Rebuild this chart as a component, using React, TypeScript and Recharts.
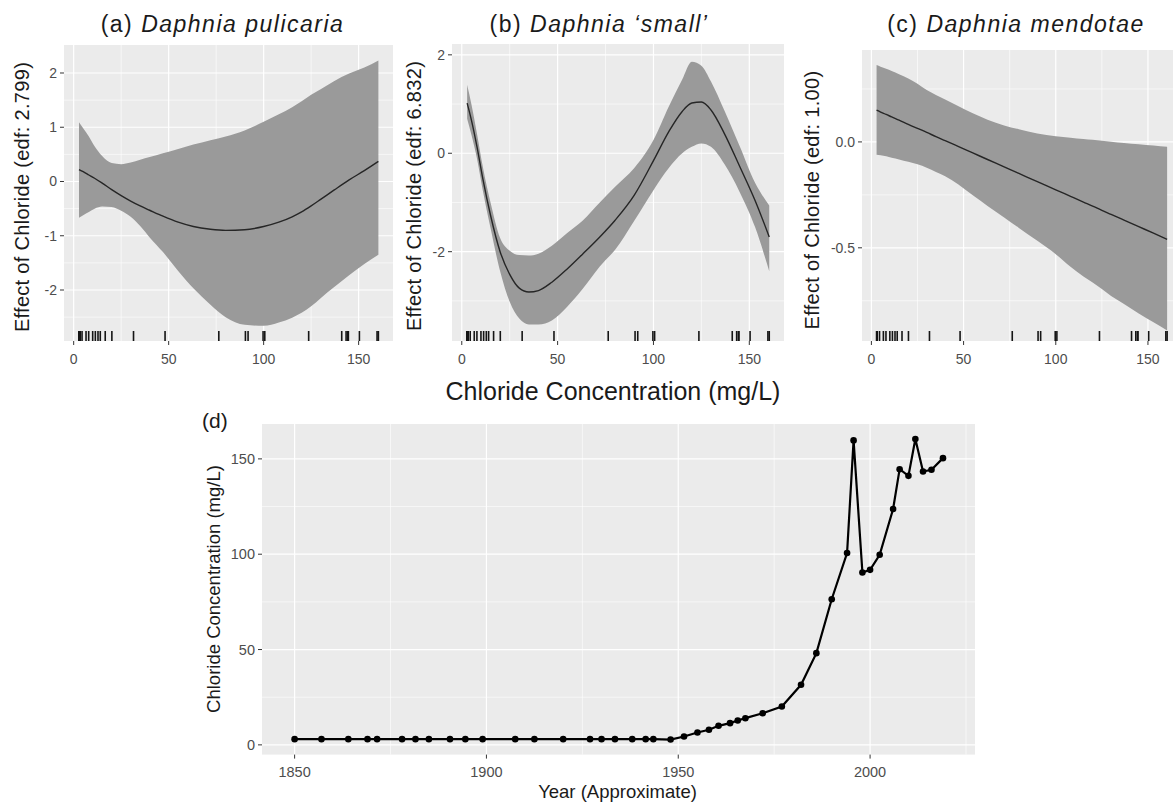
import React from "react";
import { Area, CartesianGrid, ComposedChart, Line, Scatter, XAxis, YAxis } from "recharts";

const FONT = '"Liberation Sans", Arial, Helvetica, sans-serif';
const PANEL_BG = "#EBEBEB";
const RIBBON = "#9A9A9A";
const TICK_TEXT = "#4D4D4D";

const chlorideGrid = [2.8, 5, 8, 11, 15, 20, 25, 30, 35, 40, 47, 55, 63, 72, 80, 90, 100, 108, 115, 120, 125, 130, 137, 145, 153, 160.4];

// (a) Daphnia pulicaria
const pulicariaFit = [0.22, 0.18, 0.12, 0.06, -0.03, -0.15, -0.26, -0.36, -0.45, -0.53, -0.64, -0.75, -0.83, -0.88, -0.9, -0.89, -0.83, -0.75, -0.65, -0.56, -0.45, -0.33, -0.16, 0.03, 0.2, 0.37];
const pulicariaLower = [-0.67, -0.62, -0.56, -0.5, -0.46, -0.47, -0.54, -0.65, -0.82, -1.03, -1.3, -1.65, -1.97, -2.27, -2.5, -2.64, -2.66, -2.6, -2.51, -2.42, -2.3, -2.15, -1.95, -1.73, -1.52, -1.35];
const pulicariaUpper = [1.09, 0.98, 0.83, 0.65, 0.47, 0.34, 0.32, 0.35, 0.4, 0.45, 0.52, 0.6, 0.68, 0.76, 0.83, 0.94, 1.1, 1.24, 1.37, 1.48, 1.6, 1.7, 1.85, 1.99, 2.1, 2.23];

// (b) Daphnia 'small'
const smallFit = [1.02, 0.68, 0.12, -0.52, -1.26, -2.0, -2.46, -2.74, -2.82, -2.79, -2.62, -2.35, -2.05, -1.7, -1.36, -0.85, -0.15, 0.44, 0.85, 1.02, 1.04, 0.88, 0.4, -0.27, -0.96, -1.7];
const smallLower = [0.7, 0.38, -0.12, -0.76, -1.52, -2.4, -3.02, -3.36, -3.48, -3.48, -3.4, -3.12, -2.76, -2.3, -1.96, -1.37, -0.75, -0.3, 0.0, 0.13, 0.2, 0.13, -0.22, -0.79, -1.5, -2.4];
const smallUpper = [1.39, 1.0, 0.38, -0.28, -1.0, -1.72, -1.98, -2.07, -2.08, -2.04, -1.88, -1.62, -1.37, -1.0, -0.68, -0.3, 0.27, 0.95, 1.5, 1.86, 1.78, 1.46, 0.87, 0.14, -0.6, -1.06];

// (c) Daphnia mendotae
const mendotaeFit = [0.15, 0.141, 0.13, 0.118, 0.103, 0.083, 0.064, 0.045, 0.025, 0.006, -0.021, -0.052, -0.083, -0.118, -0.149, -0.188, -0.226, -0.257, -0.284, -0.303, -0.323, -0.342, -0.369, -0.4, -0.431, -0.46];
const mendotaeLower = [-0.06, -0.063, -0.068, -0.075, -0.083, -0.094, -0.106, -0.122, -0.142, -0.162, -0.2, -0.252, -0.302, -0.357, -0.406, -0.467, -0.53, -0.59, -0.635, -0.664, -0.695, -0.727, -0.765, -0.81, -0.852, -0.89];
const mendotaeUpper = [0.363, 0.355, 0.345, 0.335, 0.32, 0.3, 0.275, 0.245, 0.222, 0.2, 0.17, 0.135, 0.105, 0.078, 0.06, 0.04, 0.027, 0.02, 0.014, 0.01, 0.006, 0.001, -0.005, -0.011, -0.017, -0.023];

// (d) chloride history (also the rug under a-c)
const years = [1850, 1857, 1864, 1869, 1871.5, 1878, 1881.5, 1885, 1890.5, 1894.5, 1899, 1907.5, 1912.5, 1920, 1927, 1930, 1933.5, 1938, 1941.5, 1943.5, 1948, 1951.5, 1955, 1958, 1960.5, 1963.5, 1965.5, 1967.5, 1972, 1977, 1982, 1986, 1990, 1994, 1995.7, 1998, 2000, 2002.5, 2006, 2007.7, 2010, 2011.8, 2013.8, 2016, 2019];
const chloride = [3, 3, 3, 3, 3, 3, 3, 3, 3, 3, 3, 3, 3, 3, 3, 3, 3, 3, 3, 3, 2.8, 4.4, 6.5, 7.9, 10, 11.4, 12.8, 14, 16.6, 20.1, 31.5, 48.1, 76.4, 100.6, 159.7, 90.4, 91.8, 99.7, 123.7, 144.6, 141.1, 160.4, 143.4, 144.3, 150.4];

const gamTicksX = [0, 50, 100, 150];
const gamMinorX = [25, 75, 125];
const yearTicks = [1850, 1900, 1950, 2000];
const yearMinor = [1875, 1925, 1975, 2025];
const concTicks = [0, 50, 100, 150];
const concMinor = [25, 75, 125];

type Box = { left: number; right: number; top: number; bottom: number };

const RugTick = (p: any) => (
  <line x1={p.cx} x2={p.cx} y1={p.cy} y2={p.cy - 10} stroke="#151515" strokeWidth={1.6} />
);

function GamPanel(props: {
  box: Box;
  yDomain: [number, number];
  yTicks: number[];
  yMinor: number[];
  fit: number[];
  lower: number[];
  upper: number[];
  fmt?: (v: number) => string;
}) {
  const { box, yDomain, yTicks, yMinor, fit, lower, upper, fmt } = props;
  const yAxisW = 60;
  const xAxisH = 34;
  const rows = chlorideGrid.map((x, i) => ({ x, fit: fit[i], band: [lower[i], upper[i]] }));
  const rug = chloride.map((x) => ({ x, y: yDomain[0] }));
  return (
    <div style={{ position: "absolute", left: box.left - yAxisW, top: box.top }}>
      <ComposedChart
        width={box.right - box.left + yAxisW}
        height={box.bottom - box.top + xAxisH}
        data={rows}
        margin={{ top: 0, right: 0, bottom: 0, left: 0 }}
      >
        <CartesianGrid fill={PANEL_BG} fillOpacity={1} stroke="#fff" strokeWidth={0.6} horizontalValues={yMinor} verticalValues={gamMinorX} />
        <CartesianGrid stroke="#fff" strokeWidth={1.2} horizontalValues={yTicks} verticalValues={gamTicksX} />
        <XAxis
          type="number"
          dataKey="x"
          domain={[-5.1, 168.3]}
          ticks={gamTicksX}
          allowDataOverflow
          axisLine={false}
          tickLine={{ stroke: "#333" }}
          tickSize={4}
          tickMargin={9}
          height={xAxisH}
          interval={0}
          tick={{ fontSize: 14, fill: TICK_TEXT }}
        />
        <YAxis
          type="number"
          domain={yDomain}
          ticks={yTicks}
          allowDataOverflow
          axisLine={false}
          tickLine={{ stroke: "#333" }}
          tickSize={4}
          tickMargin={3}
          width={yAxisW}
          interval={0}
          tick={{ fontSize: 14, fill: TICK_TEXT }}
          tickFormatter={fmt}
        />
        <Area dataKey="band" type="monotone" stroke="none" fill={RIBBON} fillOpacity={1} activeDot={false} isAnimationActive={false} />
        <Line dataKey="fit" type="monotone" stroke="#262626" strokeWidth={1.4} dot={false} activeDot={false} isAnimationActive={false} />
        <Scatter data={rug} dataKey="y" shape={RugTick} isAnimationActive={false} />
      </ComposedChart>
    </div>
  );
}

function HistoryPanel({ box }: { box: Box }) {
  const yAxisW = 60;
  const xAxisH = 34;
  const rows = years.map((year, i) => ({ year, chloride: chloride[i] }));
  return (
    <div style={{ position: "absolute", left: box.left - yAxisW, top: box.top }}>
      <ComposedChart
        width={box.right - box.left + yAxisW}
        height={box.bottom - box.top + xAxisH}
        data={rows}
        margin={{ top: 0, right: 0, bottom: 0, left: 0 }}
      >
        <CartesianGrid fill={PANEL_BG} fillOpacity={1} stroke="#fff" strokeWidth={0.6} horizontalValues={concMinor} verticalValues={yearMinor} />
        <CartesianGrid stroke="#fff" strokeWidth={1.2} horizontalValues={concTicks} verticalValues={yearTicks} />
        <XAxis
          type="number"
          dataKey="year"
          domain={[1841.5, 2027.5]}
          ticks={yearTicks}
          allowDataOverflow
          axisLine={false}
          tickLine={{ stroke: "#333" }}
          tickSize={4}
          tickMargin={8}
          height={xAxisH}
          interval={0}
          tick={{ fontSize: 14.5, fill: TICK_TEXT }}
        />
        <YAxis
          type="number"
          domain={[-5.1, 168.3]}
          ticks={concTicks}
          allowDataOverflow
          axisLine={false}
          tickLine={{ stroke: "#333" }}
          tickSize={4}
          tickMargin={3}
          width={yAxisW}
          interval={0}
          tick={{ fontSize: 14.5, fill: TICK_TEXT }}
        />
        <Line
          dataKey="chloride"
          type="linear"
          stroke="#000"
          strokeWidth={2.2}
          dot={{ r: 3.3, fill: "#000", stroke: "#000", strokeWidth: 0 }}
          activeDot={false}
          isAnimationActive={false}
        />
      </ComposedChart>
    </div>
  );
}

export default function App() {
  return (
    <div
      style={{
        position: "absolute",
        left: 0,
        top: 0,
        width: 1173,
        height: 805,
        overflow: "hidden",
        background: "#fff",
        fontFamily: FONT,
      }}
    >
      <GamPanel
        box={{ left: 63.6, right: 393, top: 45, bottom: 341 }}
        yDomain={[-2.94, 2.516]}
        yTicks={[-2, -1, 0, 1, 2]}
        yMinor={[-2.5, -1.5, -0.5, 0.5, 1.5]}
        fit={pulicariaFit}
        lower={pulicariaLower}
        upper={pulicariaUpper}
      />
      <GamPanel
        box={{ left: 451.7, right: 784.1, top: 44, bottom: 341 }}
        yDomain={[-3.815, 2.22]}
        yTicks={[-2, 0, 2]}
        yMinor={[-3, -1, 1]}
        fit={smallFit}
        lower={smallLower}
        upper={smallUpper}
      />
      <GamPanel
        box={{ left: 862.3, right: 1182, top: 50, bottom: 341 }}
        yDomain={[-0.94, 0.434]}
        yTicks={[-0.5, 0]}
        yMinor={[-0.75, -0.25, 0.25]}
        fit={mendotaeFit}
        lower={mendotaeLower}
        upper={mendotaeUpper}
        fmt={(v) => v.toFixed(1)}
      />
      <HistoryPanel box={{ left: 261.9, right: 975.5, top: 424.1, bottom: 754.7 }} />

      <svg width={1173} height={805} style={{ position: "absolute", left: 0, top: 0, pointerEvents: "none" }}>
        <g fill="#1a1a1a" fontFamily={FONT}>
          <text x={222.5} y={32} fontSize={23} letterSpacing={1.5} textAnchor="middle">
            (a) <tspan fontStyle="italic">Daphnia pulicaria</tspan>
          </text>
          <text x={599} y={32} fontSize={23} letterSpacing={1.5} textAnchor="middle">
            (b) <tspan fontStyle="italic">Daphnia ‘small’</tspan>
          </text>
          <text x={1016} y={32} fontSize={23} letterSpacing={1.5} textAnchor="middle">
            (c) <tspan fontStyle="italic">Daphnia mendotae</tspan>
          </text>

          <text transform="translate(22,197) rotate(-90)" fontSize={20} letterSpacing={0.3} textAnchor="middle" dominantBaseline="central">
            Effect of Chloride (edf: 2.799)
          </text>
          <text transform="translate(414,196) rotate(-90)" fontSize={20} letterSpacing={0.3} textAnchor="middle" dominantBaseline="central">
            Effect of Chloride (edf: 6.832)
          </text>
          <text transform="translate(812,200) rotate(-90)" fontSize={20} letterSpacing={0.3} textAnchor="middle" dominantBaseline="central">
            Effect of Chloride (edf: 1.00)
          </text>

          <text x={613} y={400} fontSize={25} textAnchor="middle">
            Chloride Concentration (mg/L)
          </text>

          <text x={202} y={428} fontSize={21}>
            (d)
          </text>
          <text transform="translate(213,589) rotate(-90)" fontSize={18.5} textAnchor="middle" dominantBaseline="central">
            Chloride Concentration (mg/L)
          </text>
          <text x={617.5} y={798} fontSize={18.5} textAnchor="middle">
            Year (Approximate)
          </text>
        </g>
      </svg>
    </div>
  );
}
